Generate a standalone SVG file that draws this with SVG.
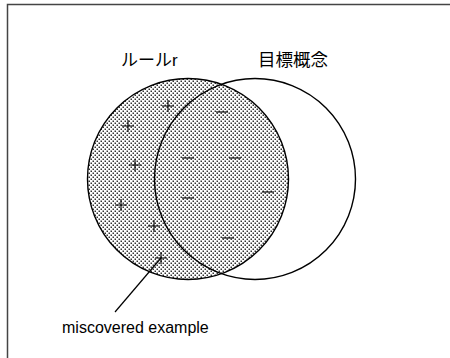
<svg xmlns="http://www.w3.org/2000/svg" width="450" height="358" viewBox="0 0 450 358">
<defs>
<pattern id="dots" width="4" height="4" patternUnits="userSpaceOnUse">
<rect width="4" height="4" fill="#fff"/>
<rect x="0.5" y="0.5" width="1.5" height="1.5" fill="#333"/>
<rect x="2.5" y="2.5" width="1.5" height="1.5" fill="#333"/>
</pattern>
</defs>
<style>
.c{fill:none;stroke:#000;stroke-width:1.4}
.s{stroke:#000;stroke-width:1.1;fill:none}
.lbl{font-family:"Liberation Sans","Noto Sans CJK JP",sans-serif;fill:#000}
</style>
<rect x="0" y="0" width="450" height="358" fill="#fff"/>
<path d="M7.5,358 V4.5 H450" fill="none" stroke="#444" stroke-width="1.5"/>
<g id="rule-r">
<circle cx="188" cy="179" r="100.5" fill="url(#dots)"/>
<circle cx="188" cy="179" r="100.5" class="c"/>
<text class="lbl" x="121" y="66" font-size="17">ルールr</text>
</g>
<g id="target">
<circle cx="255" cy="179" r="100.5" class="c"/>
<text class="lbl" x="258" y="66" font-size="17.5">目標概念</text>
</g>
<g id="examples" class="s">
<path d="M162,106h12M168,100v12"/>
<path d="M122,126h12M128,120v12"/>
<path d="M129,165h12M135,159v12"/>
<path d="M115,205h12M121,199v12"/>
<path d="M148,226h12M154,220v12"/>
<path d="M155,258h12M161,252v12"/>
<path d="M216,112h12"/>
<path d="M182,158h12"/>
<path d="M229,158h12"/>
<path d="M182,198h12"/>
<path d="M262,192h12"/>
<path d="M222,238h12"/>
</g>
<g id="connectors">
<line x1="161" y1="258" x2="115" y2="312" stroke="#000" stroke-width="1.2"/>
</g>
<g id="note">
<text class="lbl" x="62" y="333" font-size="16">miscovered example</text>
</g>
</svg>
